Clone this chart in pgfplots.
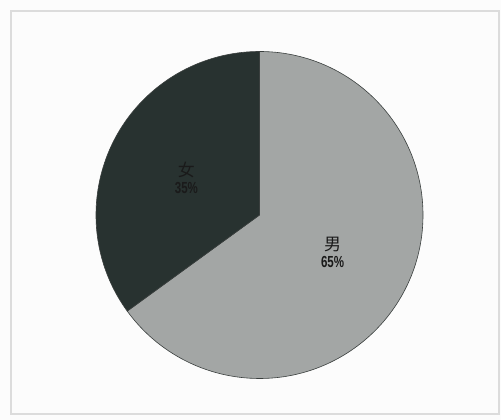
\documentclass[border=0pt]{standalone}
\usepackage{pgfplots}
\pgfplotsset{compat=1.18}
\usepackage{pgfplotstable}
\usepackage{fontspec}
\setmainfont{Liberation Sans}
\newfontfamily\cjk{Noto Sans CJK SC}
\definecolor{bgc}{HTML}{FCFCFC}
\definecolor{framec}{HTML}{DCDCDC}
\definecolor{mslice}{HTML}{A3A6A5}
\definecolor{fslice}{HTML}{283230}
\definecolor{edgec}{HTML}{3A3F3E}
\definecolor{txtc}{HTML}{1A1A1A}

\pgfplotstableread[col sep=comma]{
label,value,col
男,65,mslice
女,35,fslice
}\piedata

\begin{document}
\begin{tikzpicture}
\begin{axis}[scale only axis, width=501pt, height=420pt,
  xmin=0, xmax=501, ymin=0, ymax=420, hide axis, clip=false]
\pgfplotsextra{
  \fill[bgc] (axis cs:0,0) rectangle (axis cs:501,420);
  \draw[framec, line width=1.5pt] (axis cs:11,6) rectangle (axis cs:499,409);
  \pgfplotstablegetrowsof{\piedata}
  \pgfmathtruncatemacro\last{\pgfplotsretval-1}
  \gdef\cur{90}
  \foreach \i in {0,...,\last}{
    \pgfplotstablegetelem{\i}{value}\of\piedata
    \pgfmathtruncatemacro\v{\pgfplotsretval}
    \pgfplotstablegetelem{\i}{col}\of\piedata
    \edef\c{\pgfplotsretval}
    \pgfplotstablegetelem{\i}{label}\of\piedata
    \edef\l{\pgfplotsretval}
    \pgfmathsetmacro\e{\cur-3.6*\v}
    \pgfmathsetmacro\m{(\cur+\e)/2}
    \filldraw[fill=\c, draw=edgec, line width=0.6pt] (axis cs:259.5,205) -- ++(\cur:163.5pt)
      arc[start angle=\cur, end angle=\e, radius=163.5pt] -- cycle;
    \path (axis cs:259.5,205) ++(\m:82pt) node[align=center, text=txtc, inner sep=0pt]
      {{\cjk\fontsize{17}{18}\selectfont \l}\\[3pt]{\fontsize{16}{16}\selectfont\bfseries\scalebox{0.72}[1]{\v\%}}};
    \xdef\cur{\e}
  }
}
\end{axis}
\end{tikzpicture}
\end{document}
